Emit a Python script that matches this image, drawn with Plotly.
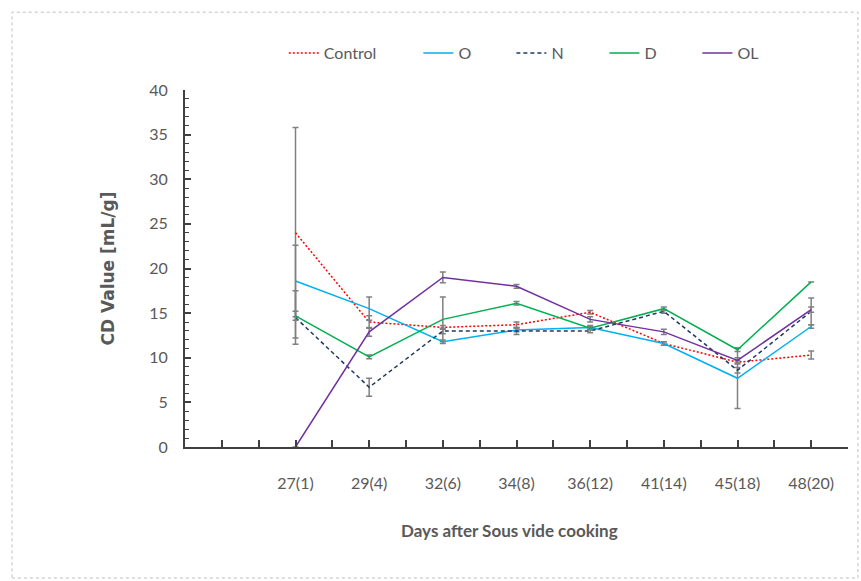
import plotly.graph_objects as go

# Storage days (days after sous vide cooking) and CD values per treatment
days = ["27(1)", "29(4)", "32(6)", "34(8)", "36(12)", "41(14)", "45(18)", "48(20)"]

control = [24.0, 14.0, 13.4, 13.7, 15.1, 11.6, 9.5, 10.3]
control_err = [11.8, 0.7, 0.2, 0.3, 0.2, 0.2, 0.2, 0.45]

o_vals = [18.6, 15.5, 11.8, 13.1, 13.4, 11.6, 7.7, 13.5]
o_err = [4.0, 1.3, 0.2, 0.2, 0.2, 0.2, 3.4, 0.2]

n_vals = [14.5, 6.7, 13.0, 13.0, 13.0, 15.2, 8.6, 15.2]
n_err = [3.0, 1.0, 0.3, 0.4, 0.2, 0.2, 0.3, 1.5]

d_vals = [14.7, 10.1, 14.3, 16.1, 13.3, 15.5, 10.9, 18.5]
d_err = [0.5, 0.2, 2.5, 0.2, 0.2, 0.2, 0.2, 0.0]

ol_vals = [0.0, 12.9, 19.0, 18.0, 14.3, 12.9, 9.7, 15.4]
ol_err = [0.0, 0.5, 0.6, 0.2, 0.3, 0.3, 0.3, 0.3]

series = [
    ("Control", control, control_err, "#FF0000", "2px,2px", "legend"),
    ("O", o_vals, o_err, "#00B0F0", "solid", "legend2"),
    ("N", n_vals, n_err, "#1F3864", "4px,3px", "legend2"),
    ("D", d_vals, d_err, "#00B050", "solid", "legend2"),
    ("OL", ol_vals, ol_err, "#7030A0", "solid", "legend2"),
]

xpos = list(range(len(days)))

fig = go.Figure()
for name, vals, err, color, dash, leg in series:
    fig.add_trace(go.Scatter(
        x=xpos, y=vals, name=name, mode="lines", legend=leg,
        line=dict(color=color, width=1.5, dash=dash),
        error_y=dict(type="data", array=err, visible=True,
                     color="#808080", thickness=1.5, width=3),
    ))

# category axis with one empty slot before the first day, ticks at centres and boundaries
tick_positions = [i * 0.5 for i in range(-3, 16)]
tick_text = [days[int(t)] if (t >= 0 and float(t).is_integer()) else "" for t in tick_positions]

font_main = "Lato, Open Sans, sans-serif"
grey_text = "#595959"

legend_common = dict(
    orientation="h", yanchor="middle", xanchor="left", y=1.1036,
    font=dict(family=font_main, size=16, color=grey_text),
    bgcolor="rgba(0,0,0,0)",
)

fig.update_layout(
    width=861, height=581,
    margin=dict(l=185, r=13, t=90, b=134),
    paper_bgcolor="white", plot_bgcolor="white",
    font=dict(family=font_main, color=grey_text, size=15),
    showlegend=True,
    legend=dict(x=0.149, **legend_common),
    legend2=dict(x=0.352, entrywidth=48, entrywidthmode="pixels", **legend_common),
    xaxis=dict(
        range=[-1.5, 7.5], tickmode="array", tickvals=tick_positions, ticktext=tick_text,
        showgrid=False, zeroline=False, showline=True, linecolor="#404040", linewidth=2,
        ticks="inside", ticklen=7, tickwidth=1.5, tickcolor="#404040",
        tickfont=dict(size=16, color=grey_text, family=font_main),
        ticklabelstandoff=21,
    ),
    yaxis=dict(
        range=[0, 40], tickmode="linear", tick0=0, dtick=5,
        showgrid=False, zeroline=False, showline=True, linecolor="#404040", linewidth=2,
        ticks="inside", ticklen=6, tickwidth=1.5, tickcolor="#404040",
        minor=dict(ticks="inside", dtick=1, ticklen=4, tickwidth=1, tickcolor="#404040"),
        tickfont=dict(size=16, color=grey_text, family=font_main),
        ticklabelstandoff=12,
        title=dict(text="<b>CD Value [mL/g]</b>", standoff=30,
                   font=dict(size=17, color=grey_text, family="DejaVu Sans, sans-serif")),
    ),
    annotations=[dict(
        text="<b>Days after Sous vide cooking</b>", xref="paper", yref="paper",
        x=0.490, y=-0.235, xanchor="center", yanchor="middle", showarrow=False,
        font=dict(size=17, color=grey_text, family=font_main),
    )],
    shapes=[dict(type="rect", xref="paper", yref="paper",
                 x0=-0.261, x1=1.015, y0=-0.367, y1=1.218,
                 line=dict(color="#BFBFBF", width=1, dash="dot"), layer="below")],
)

fig.write_html("out.html")
